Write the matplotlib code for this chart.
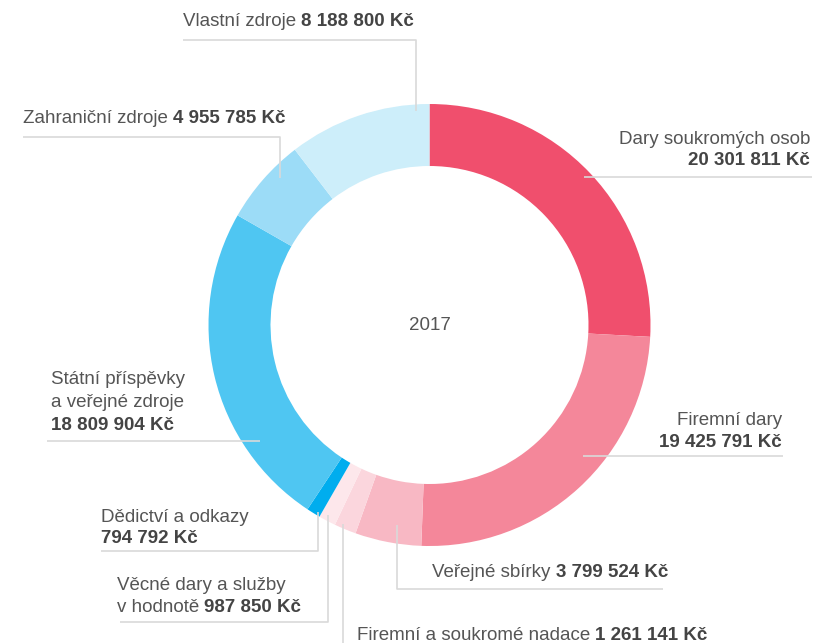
import matplotlib
matplotlib.use('Agg')
import matplotlib.pyplot as plt

plt.rcParams['font.family'] = ['Liberation Sans', 'DejaVu Sans']

# Data (Kč), clockwise from the top
categories = [
    'Dary soukromých osob', 'Firemní dary', 'Veřejné sbírky',
    'Firemní a soukromé nadace', 'Věcné dary a služby v hodnotě',
    'Dědictví a odkazy', 'Státní příspěvky a veřejné zdroje',
    'Zahraniční zdroje', 'Vlastní zdroje',
]
values = [20301811, 19425791, 3799524, 1261141, 987850,
          794792, 18809904, 4955785, 8188800]
colors = ['#f04f6d', '#f4879a', '#f8b8c4', '#fbd6dd', '#fde7eb',
          '#00adee', '#4fc6f2', '#9cdcf7', '#cdeefa']
year = '2017'

TEXT = '#555555'
BOLD = '#444444'
LINE = '#d9d9d9'
FS = 13.5


def fmt(v):
    return f'{v:,}'.replace(',', ' ') + ' Kč'


fig = plt.figure(figsize=(8.14, 6.43), dpi=100)
ax = fig.add_axes([0, 0, 1, 1])

# y axis is inverted (pixel-like coords), so start at -90 and go "counterclock"
ax.pie(values, colors=colors, startangle=-90, counterclock=True,
       center=(429.5, 325), radius=221,
       wedgeprops=dict(width=62, linewidth=0), frame=True)

ax.set_xlim(0, 814)
ax.set_ylim(643, 0)
ax.axis('off')

ax.text(429.5, 326, year, fontsize=FS, color=TEXT, ha='center', va='center')


def label(x, y, normal, bold, ha='left'):
    """Normal text followed by bold value on one baseline."""
    if not normal:
        return ax.text(x, y, bold, fontsize=FS, color=BOLD, fontweight='bold',
                       ha=ha, va='baseline')
    t = ax.text(x, y, normal, fontsize=FS, color=TEXT, ha=ha, va='baseline')
    if bold:
        ax.annotate(bold, xy=(1, 0), xycoords=t, xytext=(3.7, 0),
                    textcoords='offset points', fontsize=FS, color=BOLD,
                    fontweight='bold', ha='left', va='bottom')
    return t


def leader(xs, ys):
    ax.plot(xs, ys, color=LINE, lw=1.2, solid_capstyle='butt', zorder=3)


# Vlastní zdroje
label(183, 26, 'Vlastní zdroje', fmt(values[8]))
leader([183, 416, 416], [40, 40, 111])

# Zahraniční zdroje
label(23, 123, 'Zahraniční zdroje', fmt(values[7]))
leader([23, 280, 280], [137, 137, 178])

# Dary soukromých osob
label(810, 144, 'Dary soukromých osob', None, ha='right')
label(810, 165, None, fmt(values[0]), ha='right')
leader([584, 812], [177, 177])

# Firemní dary
label(782, 425, 'Firemní dary', None, ha='right')
label(782, 447, None, fmt(values[1]), ha='right')
leader([583, 783], [456, 456])

# Státní příspěvky a veřejné zdroje
label(51, 384, 'Státní příspěvky', None)
label(51, 407, 'a veřejné zdroje', None)
label(51, 430, None, fmt(values[6]))
leader([47, 260], [441, 441])

# Dědictví a odkazy
label(101, 522, 'Dědictví a odkazy', None)
label(101, 543, None, fmt(values[5]))
leader([318, 318, 101], [512, 551, 551])

# Věcné dary a služby
label(117, 590, 'Věcné dary a služby', None)
label(117, 612, 'v hodnotě', fmt(values[4]))
leader([328, 328, 120], [515, 622, 622])

# Veřejné sbírky
label(432, 577, 'Veřejné sbírky', fmt(values[2]))
leader([397, 397, 663], [525, 589, 589])

# Firemní a soukromé nadace
label(357, 640, 'Firemní a soukromé nadace', fmt(values[3]))
leader([343, 343], [524, 650])

fig.savefig('out.png', dpi=100)
